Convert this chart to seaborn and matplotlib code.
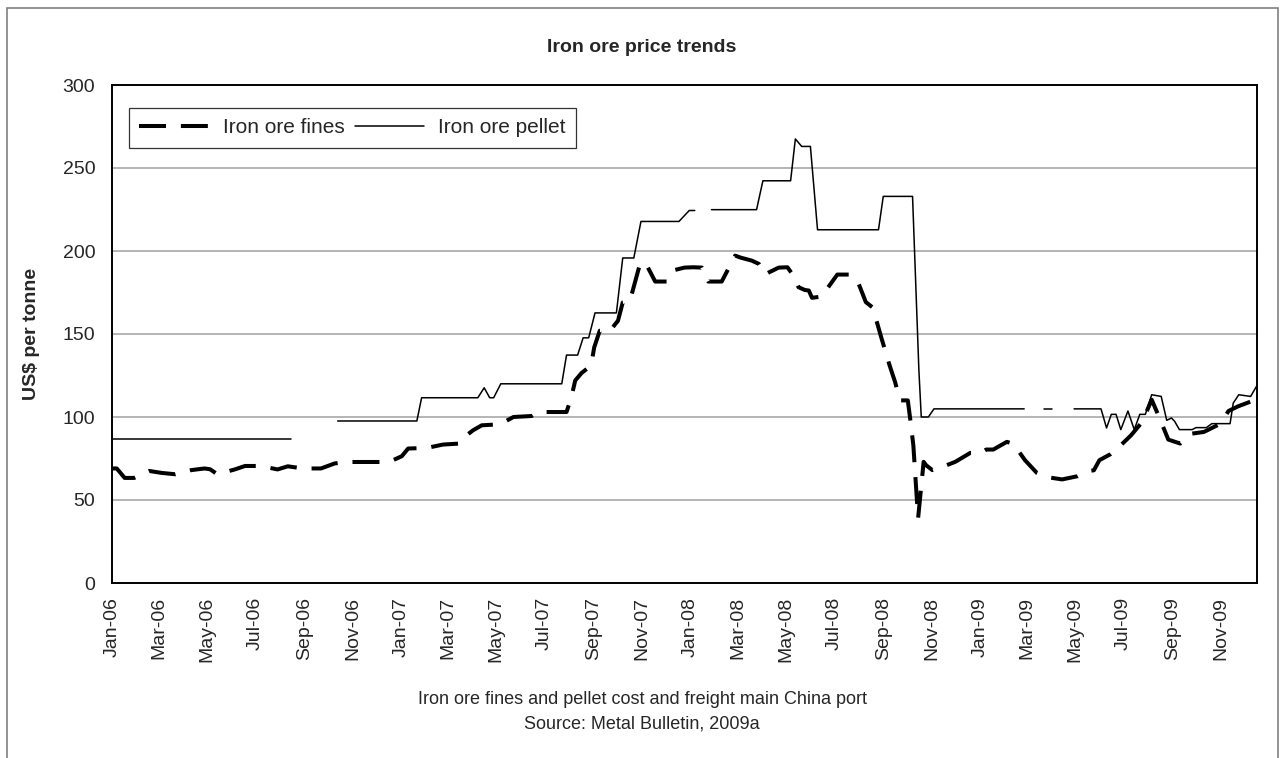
import numpy as np
import pandas as pd
import matplotlib
matplotlib.use("Agg")
import matplotlib.pyplot as plt
import matplotlib.dates as mdates
from matplotlib.lines import Line2D
from matplotlib.patches import Rectangle
import seaborn as sns

# ---------------- data ----------------
fines_dates = [
    "2006-01-02", "2006-01-07", "2006-01-17", "2006-01-29", "2006-02-17", "2006-03-05",
    "2006-03-22", "2006-04-11", "2006-04-28", "2006-05-05", "2006-05-14", "2006-06-05",
    "2006-06-18", "2006-07-08", "2006-07-29", "2006-08-11", "2006-08-30", "2006-09-22",
    "2006-10-09", "2006-10-23", "2006-12-17", "2007-01-02", "2007-01-10", "2007-02-03",
    "2007-02-23", "2007-03-16", "2007-03-21", "2007-04-02", "2007-04-13", "2007-05-06",
    "2007-05-23", "2007-06-15", "2007-06-23", "2007-07-29", "2007-08-04", "2007-08-09",
    "2007-08-17", "2007-08-29", "2007-09-02", "2007-09-09", "2007-09-22", "2007-10-02",
    "2007-10-08", "2007-10-17", "2007-10-30", "2007-11-06", "2007-11-18", "2007-12-03",
    "2007-12-13", "2007-12-25", "2008-01-05", "2008-01-16", "2008-01-24", "2008-01-31",
    "2008-02-10", "2008-02-27", "2008-03-05", "2008-03-19", "2008-03-28", "2008-04-05",
    "2008-04-10", "2008-04-22", "2008-05-03", "2008-05-09", "2008-05-17", "2008-05-25",
    "2008-05-30", "2008-06-03", "2008-06-16", "2008-06-22", "2008-07-05", "2008-07-22",
    "2008-08-01", "2008-08-10", "2008-08-18", "2008-08-24", "2008-08-30", "2008-09-09",
    "2008-09-16", "2008-09-22", "2008-10-02", "2008-10-05", "2008-10-09", "2008-10-15",
    "2008-10-22", "2008-10-25", "2008-11-02", "2008-11-15", "2008-12-01", "2008-12-20",
    "2009-01-01", "2009-01-09", "2009-01-18", "2009-02-04", "2009-02-12", "2009-02-27",
    "2009-03-14", "2009-03-25", "2009-04-15", "2009-05-04", "2009-05-16", "2009-05-25",
    "2009-06-01", "2009-06-15", "2009-06-25", "2009-07-11", "2009-07-25", "2009-08-06",
    "2009-08-15", "2009-08-27", "2009-09-11", "2009-09-26", "2009-10-11", "2009-11-01",
    "2009-11-11", "2009-11-23", "2009-12-13", "2009-12-17",
]
fines_values = [
    69, 69, 63.3, 63.3, 67.5, 66.3,
    65.5, 68, 69, 68.5, 65.5, 68.4,
    70.5, 70.5, 68.4, 70.3, 69, 69,
    72, 72.9, 72.9, 76.4, 81, 81.4,
    83.4, 84, 87.6, 92, 95, 95.6,
    100, 100.6, 103, 103, 111.7, 122,
    126.5, 131, 142, 152, 152, 158,
    169, 169.8, 192.6, 192.6, 181.6, 181.6,
    188.6, 190, 190.2, 190, 181.6, 181.6,
    181.6, 197.2, 196, 194.2, 192.2, 185.8,
    187.2, 190, 190.2, 186.2, 178.2, 176.5,
    176.2, 171.8, 172.6, 177.2, 185.8, 185.8,
    180.2, 169.2, 166.2, 157.1, 147.1, 131.1,
    121, 110, 110, 99, 83, 39,
    73, 71, 68, 70, 73, 78.4,
    78, 80.4, 80.4, 85, 84, 74,
    66.3, 63.9, 62.4, 64.3, 67.3, 67.9,
    74, 77.6, 81.6, 89, 97, 110.4,
    100.4, 86.4, 84, 90, 91, 96,
    103.6, 106.4, 110, 111,
]

# np.nan marks weeks with no pellet quote (gaps in the line)
pellet_dates = [
    "2006-01-02", "2006-08-15", "2006-09-15",
    "2006-10-13", "2007-01-21", "2007-01-27", "2007-04-08", "2007-04-16", "2007-04-23",
    "2007-04-28", "2007-05-07", "2007-07-23", "2007-07-29", "2007-08-12", "2007-08-19",
    "2007-08-26", "2007-09-03", "2007-09-30", "2007-10-08", "2007-10-22", "2007-10-31",
    "2007-12-18", "2007-12-31", "2008-01-07", "2008-01-17",
    "2008-01-28", "2008-03-25", "2008-04-02", "2008-05-07", "2008-05-13", "2008-05-21",
    "2008-06-01", "2008-06-10", "2008-08-26", "2008-09-01", "2008-10-08", "2008-10-16",
    "2008-10-19", "2008-10-28", "2008-11-04", "2009-02-26", "2009-03-10",
    "2009-03-23", "2009-04-02", "2009-04-15",
    "2009-04-30", "2009-06-03", "2009-06-10", "2009-06-16", "2009-06-22", "2009-06-28",
    "2009-07-07", "2009-07-15", "2009-07-22", "2009-07-29", "2009-08-06", "2009-08-18",
    "2009-08-25", "2009-08-31", "2009-09-04", "2009-09-10", "2009-09-26", "2009-10-01",
    "2009-10-14", "2009-10-21", "2009-11-13", "2009-11-17", "2009-11-24", "2009-12-09",
    "2009-12-17",
]
pellet_values = [
    87, 87, np.nan,
    97.6, 97.6, 111.6, 111.6, 117.6, 111.6,
    111.6, 120, 120, 137.3, 137.3, 147.7,
    147.7, 162.7, 162.7, 195.8, 195.8, 217.8,
    217.8, 224.4, 224.4, np.nan,
    224.9, 224.9, 242.3, 242.3, 267.5, 263,
    263, 212.8, 212.8, 232.9, 232.9, 128.2,
    100, 100, 104.9, 104.9, np.nan,
    104.9, 104.9, np.nan,
    104.9, 104.9, 93.4, 101.6, 101.6, 92.4,
    103.6, 92.4, 101.6, 101.6, 113.4, 112.4,
    98, 99.4, 97.4, 92.4, 92.4, 93.6,
    93.6, 96, 96, 108.4, 113.4, 112.4,
    119,
]

series_labels = ["Iron ore fines", "Iron ore pellet"]
y_ticks = [0, 50, 100, 150, 200, 250, 300]
title_text = "Iron ore price trends"
y_label = "US$ per tonne"
caption_lines = ["Iron ore fines and pellet cost and freight main China port",
                 "Source: Metal Bulletin, 2009a"]

# ---------------- frames ----------------
fines_df = pd.DataFrame({"date": pd.to_datetime(fines_dates), "value": fines_values})
pel = pd.DataFrame({"date": pd.to_datetime(pellet_dates), "value": pellet_values})
pel["segment"] = pel["value"].isna().cumsum()
pel = pel.dropna()

# ---------------- style ----------------
sns.set_style("white")
plt.rcParams["font.family"] = ["Liberation Sans", "DejaVu Sans"]
FS = 14

fig = plt.figure(figsize=(12.84, 7.58), dpi=100)
ax = fig.add_axes([112 / 1284, 1 - 583 / 758, (1257 - 112) / 1284, (583 - 85) / 758])

dash_style = (0, (6.7, 3.7))
sns.lineplot(data=fines_df, x="date", y="value", ax=ax, color="black",
             linewidth=2.9, linestyle=dash_style, estimator=None, sort=False)
sns.lineplot(data=pel, x="date", y="value", units="segment", estimator=None,
             ax=ax, color="black", linewidth=1.1, sort=False)

ax.set_xlim(pd.Timestamp("2006-01-01"), pd.Timestamp("2009-12-17"))
ax.set_ylim(0, 300)
ax.set_yticks(y_ticks)
ax.yaxis.grid(True, color="#a0a0a0", linewidth=1.1)
ax.xaxis.grid(False)
ax.set_axisbelow(True)

ax.xaxis.set_major_locator(mdates.MonthLocator(bymonth=[1, 3, 5, 7, 9, 11]))
ax.xaxis.set_major_formatter(mdates.DateFormatter("%b-%y"))
ax.tick_params(axis="x", length=0, pad=10, labelsize=FS, labelrotation=90)
ax.tick_params(axis="y", length=0, pad=12, labelsize=FS)
for lbl in ax.get_xticklabels():
    lbl.set_ha("center")
    lbl.set_va("top")
ax.set_xlabel("")
ax.set_ylabel("")

for s in ax.spines.values():
    s.set_visible(True)
    s.set_color("black")
    s.set_linewidth(1.4)

LFS = 15
handles = [Line2D([], [], color="black", linewidth=2.9, linestyle=dash_style),
           Line2D([], [], color="black", linewidth=1.1)]
leg = ax.legend(handles, series_labels, loc="upper left",
                bbox_to_anchor=((129 - 112) / 1145, (583 - 108) / 498),
                borderaxespad=0, ncol=2, fontsize=LFS, frameon=True, fancybox=False,
                handlelength=3.3, handletextpad=0.7, columnspacing=0.5,
                borderpad=0.5)
leg.get_frame().set_edgecolor("black")
leg.get_frame().set_linewidth(0.9)

fig.text(0.5, 1 - 48 / 758, title_text, ha="center", va="center",
         fontsize=FS, fontweight="bold")
fig.text(32 / 1284, 1 - 334 / 758, y_label, ha="center", va="center",
         rotation=90, fontsize=FS, fontweight="bold")
fig.text(0.5, 1 - 699 / 758, caption_lines[0], ha="center", va="center", fontsize=13)
fig.text(0.5, 1 - 724 / 758, caption_lines[1], ha="center", va="center", fontsize=13)

fig.add_artist(Rectangle((7 / 1284, -0.02), (1278 - 7) / 1284, 1.02 - 8 / 758,
                         transform=fig.transFigure, fill=False,
                         edgecolor="#808080", linewidth=1.2))

fig.savefig("out.png", dpi=100)
